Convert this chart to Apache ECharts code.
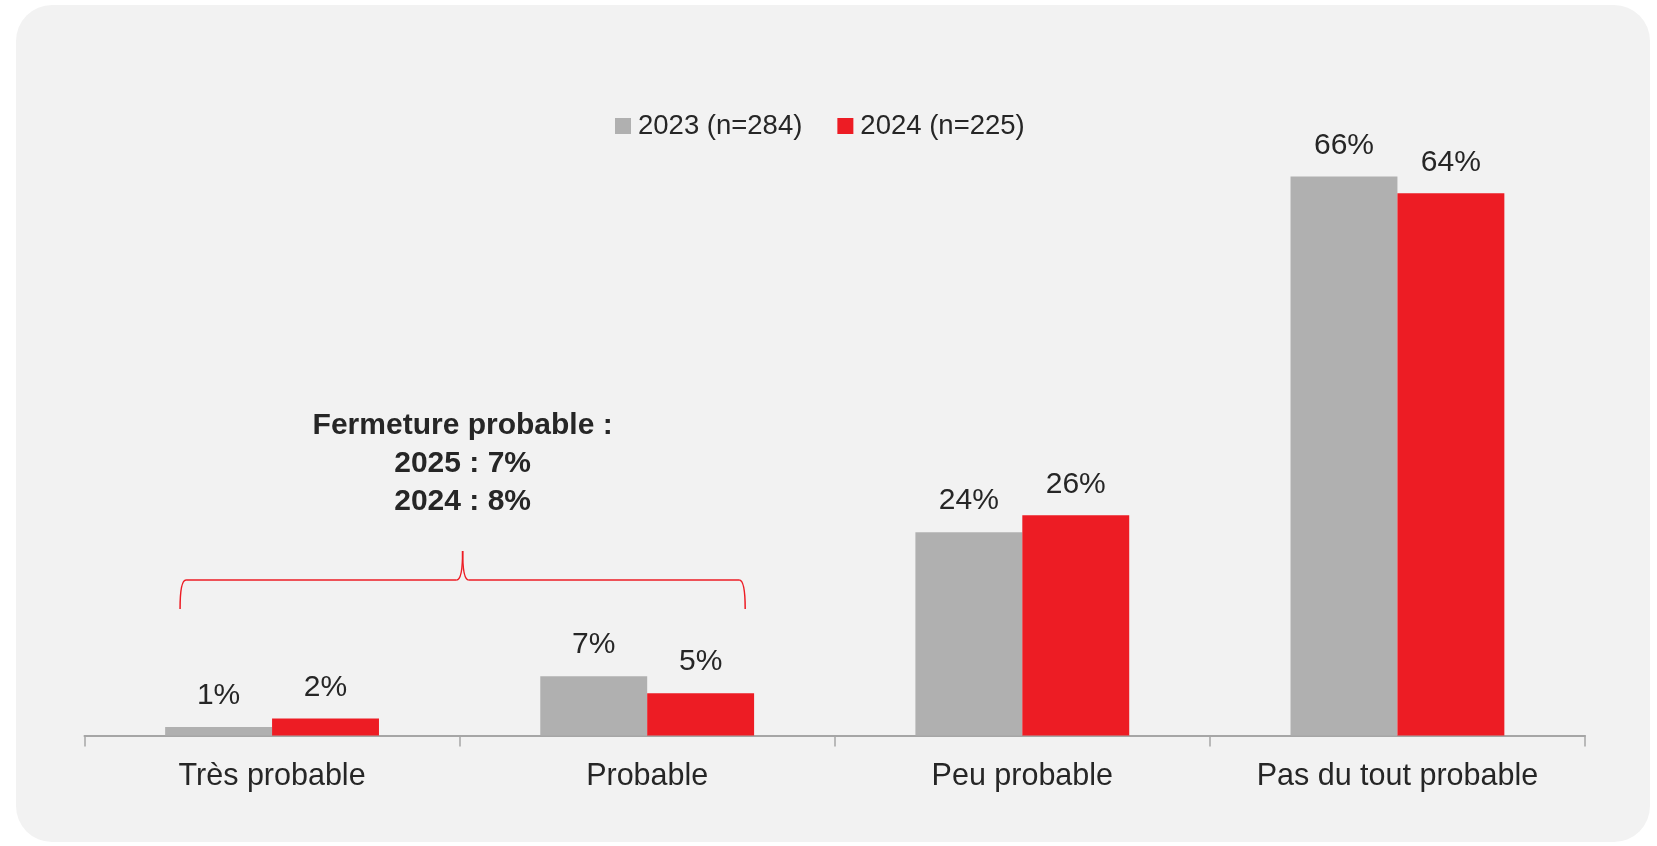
<!DOCTYPE html>
<html>
<head>
<meta charset="utf-8">
<script src="https://cdn.jsdelivr.net/npm/echarts@6/dist/echarts.min.js"></script>
<style>
  html, body { margin: 0; padding: 0; background: #ffffff; }
  .panel {
    position: absolute;
    left: 16px; top: 5px;
    width: 1634px; height: 837px;
    background: #f2f2f2;
    border-radius: 36px;
  }
  #chart { position: absolute; left: 0; top: 0; width: 1657px; height: 846px; }
</style>
</head>
<body>
<div class="panel"></div>
<div id="chart"></div>
<script>
// catégories et valeurs (%)
const categories = ['Très probable', 'Probable', 'Peu probable', 'Pas du tout probable'];
const seriesNames = ['2023 (n=284)', '2024 (n=225)'];
const values2023 = [1, 7, 24, 66];
const values2024 = [2, 5, 26, 64];
const noteLines = ['Fermeture probable :', '2025 : 7%', '2024 : 8%'];

const FONT = '"Liberation Sans", Arial, sans-serif';
const TEXT = '#262626';
const GREY = '#b0b0b0';
const RED = '#ed1c24';

const chart = echarts.init(document.getElementById('chart'), null, { renderer: 'canvas' });

const barLabel = {
  show: true,
  position: 'top',
  distance: 16,
  formatter: '{c}%',
  color: TEXT,
  fontFamily: FONT,
  fontSize: 30,
};

chart.setOption({
  backgroundColor: 'transparent',
  animation: false,
  legend: {
    data: seriesNames,
    left: 610,
    top: 107,
    itemWidth: 16,
    itemHeight: 16,
    itemGap: 35,
    icon: 'rect',
    textStyle: { color: TEXT, fontFamily: FONT, fontSize: 27.5, padding: [0, 0, 0, 2] },
  },
  grid: { left: 84.5, right: 72, top: 142.5, bottom: 110.5, containLabel: false },
  xAxis: {
    type: 'category',
    data: categories,
    axisLine: { lineStyle: { color: '#a6a6a6', width: 2 } },
    axisTick: { show: true, length: 11, lineStyle: { color: '#a6a6a6', width: 1.5 } },
    axisLabel: { color: TEXT, fontFamily: FONT, fontSize: 30.5, margin: 26 },
    splitLine: { show: false },
  },
  yAxis: { type: 'value', min: 0, max: 70, show: false },
  series: [
    {
      type: 'bar',
      name: seriesNames[0],
      data: values2023,
      barGap: '0%',
      barCategoryGap: '43%',
      itemStyle: { color: GREY },
      label: barLabel,
    },
    {
      type: 'bar',
      name: seriesNames[1],
      data: values2024,
      itemStyle: { color: RED },
      label: barLabel,
    },
  ],
});

// accolade + note, placées à partir de l'axe des catégories
function drawNote() {
  const c0 = chart.convertToPixel({ xAxisIndex: 0 }, 0);
  const c1 = chart.convertToPixel({ xAxisIndex: 0 }, 1);
  const xc = (c0 + c1) / 2 + 3;
  const xl = c0 - 92;
  const xr = c1 + 98;
  const yTip = 551, yH = 580, yEnd = 609, r = 6;
  const st = { stroke: RED, lineWidth: 1.5, fill: 'none' };
  const curve = (x1, y1, cx, cy, x2, y2) => ({
    type: 'bezierCurve',
    shape: { x1: x1, y1: y1, cpx1: cx, cpy1: cy, x2: x2, y2: y2 },
    style: st,
    silent: true,
  });
  const seg = (x1, y1, x2, y2) => ({
    type: 'line',
    shape: { x1: x1, y1: y1, x2: x2, y2: y2 },
    style: st,
    silent: true,
  });

  chart.setOption({
    graphic: [
      curve(xl, yEnd, xl, yH, xl + r, yH),
      seg(xl + r, yH, xc - r, yH),
      curve(xc - r, yH, xc, yH, xc, yTip),
      curve(xc, yTip, xc, yH, xc + r, yH),
      seg(xc + r, yH, xr - r, yH),
      curve(xr - r, yH, xr, yH, xr, yEnd),
      {
        type: 'text',
        x: xc,
        y: 464,
        style: {
          text: noteLines.join('\n'),
          fill: TEXT,
          font: 'bold 30px ' + FONT,
          align: 'center',
          verticalAlign: 'middle',
          lineHeight: 38,
        },
        silent: true,
      },
    ],
  });
}
drawNote();
</script>
</body>
</html>
